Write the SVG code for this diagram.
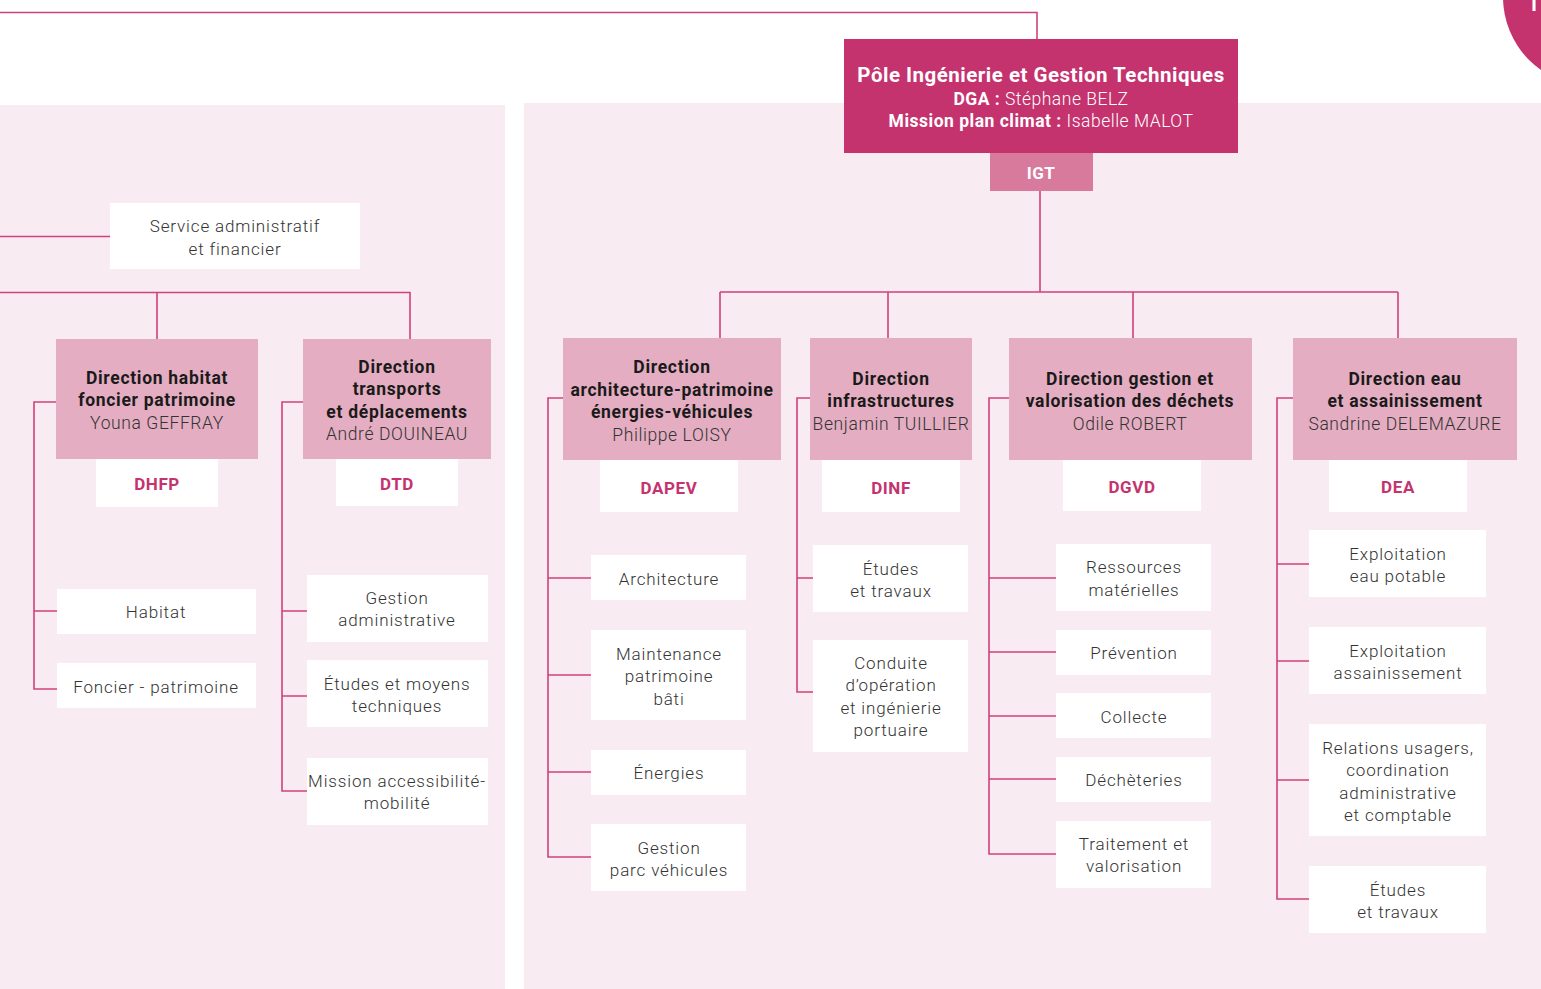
<svg xmlns="http://www.w3.org/2000/svg" width="1541" height="989" viewBox="0 0 1541 989">
<style>
text{font-family:Roboto,"Liberation Sans",sans-serif;text-anchor:middle}
.bg{fill:#F8ECF2}
.dir{fill:#E4ADC1}
.leaf{fill:#FFFFFF}
.t{font-size:17px;fill:#333333;font-weight:300;letter-spacing:0.85px}
.b{font-size:17.5px;fill:#1a1a1a;font-weight:700;letter-spacing:0.7px}
.n{font-size:17.5px;fill:#333333;font-weight:300;letter-spacing:0.6px}
.code{font-size:17px;fill:#C5336F;font-weight:700;letter-spacing:0.6px}
.hd{fill:#FFFFFF;letter-spacing:0.5px}
#connectors path{stroke:#D0417B;stroke-width:1.6;fill:none}
</style>
<rect width="1541" height="989" fill="#FFFFFF"/>
<rect class="bg" x="0" y="105" width="505" height="884"/>
<rect class="bg" x="524" y="103" width="1017" height="886"/>
<circle cx="1592" cy="-3" r="89" fill="#C5336F"/>
<text x="1534" y="11" font-size="20" fill="#FFFFFF" font-weight="700" style="font-family:'Liberation Sans',sans-serif">I</text>

<g id="connectors">
<path d="M0 12.5 H1037 V39"/>
<path d="M1040 191 V292"/>
<path d="M720 292 H1398"/>
<path d="M720 292 V338 M888 292 V338 M1133 292 V338 M1398 292 V338"/>
<path d="M0 236.5 H110"/>
<path d="M0 292.5 H410 V339 M157 292.5 V339"/>
<path d="M56 402 H34 V689 H57 M34 611 H57"/>
<path d="M303 402 H282 V791 H307 M282 611 H307 M282 696 H307"/>
<path d="M563 398 H548 V857 H591 M548 578 H591 M548 675 H591 M548 772 H591"/>
<path d="M810 398 H797 V692 H813 M797 578 H813"/>
<path d="M1009 398 H989 V854 H1056 M989 578 H1056 M989 652 H1056 M989 716 H1056 M989 779 H1056"/>
<path d="M1293 398 H1277 V899 H1309 M1277 564 H1309 M1277 661 H1309 M1277 780 H1309"/>
</g>

<g id="pole">
<rect x="844" y="39" width="394" height="114" fill="#C5336F"/>
<text class="hd" x="1041" y="82" font-size="20.5" font-weight="700">Pôle Ingénierie et Gestion Techniques</text>
<text class="hd" x="1041" y="105" font-size="17.5"><tspan font-weight="700">DGA :</tspan><tspan font-weight="300"> Stéphane BELZ</tspan></text>
<text class="hd" x="1041" y="127" font-size="17.5"><tspan font-weight="700">Mission plan climat :</tspan><tspan font-weight="300"> Isabelle MALOT</tspan></text>
</g>
<g id="igt">
<rect x="990" y="153" width="103" height="38" fill="#D77A9C"/>
<text class="hd" x="1041" y="179" font-size="17" font-weight="700">IGT</text>
</g>

<g id="saf">
<rect class="leaf" x="110" y="203" width="250" height="66"/>
<text class="t" x="235" y="232">Service administratif</text>
<text class="t" x="235" y="255">et financier</text>
</g>

<g id="dhfp">
<rect class="dir" x="56" y="339" width="202" height="120"/>
<text class="b" x="157" y="384">Direction habitat</text>
<text class="b" x="157" y="406">foncier patrimoine</text>
<text class="n" x="157" y="429">Youna GEFFRAY</text>
<rect class="leaf" x="96" y="459" width="122" height="48"/>
<text class="code" x="157" y="490">DHFP</text>
</g>
<g id="dtd">
<rect class="dir" x="303" y="339" width="188" height="120"/>
<text class="b" x="397" y="373">Direction</text>
<text class="b" x="397" y="395">transports</text>
<text class="b" x="397" y="418">et déplacements</text>
<text class="n" x="397" y="440">André DOUINEAU</text>
<rect class="leaf" x="336" y="459" width="122" height="47"/>
<text class="code" x="397" y="490">DTD</text>
</g>
<g id="dapev">
<rect class="dir" x="563" y="338" width="218" height="122"/>
<text class="b" x="672" y="373">Direction</text>
<text class="b" x="672" y="396">architecture-patrimoine</text>
<text class="b" x="672" y="418">énergies-véhicules</text>
<text class="n" x="672" y="441">Philippe LOISY</text>
<rect class="leaf" x="600" y="460" width="138" height="52"/>
<text class="code" x="669" y="494">DAPEV</text>
</g>
<g id="dinf">
<rect class="dir" x="810" y="338" width="162" height="122"/>
<text class="b" x="891" y="385">Direction</text>
<text class="b" x="891" y="407">infrastructures</text>
<text class="n" x="891" y="430">Benjamin TUILLIER</text>
<rect class="leaf" x="822" y="460" width="138" height="52"/>
<text class="code" x="891" y="494">DINF</text>
</g>
<g id="dgvd">
<rect class="dir" x="1009" y="338" width="243" height="122"/>
<text class="b" x="1130" y="385">Direction gestion et</text>
<text class="b" x="1130" y="407">valorisation des déchets</text>
<text class="n" x="1130" y="430">Odile ROBERT</text>
<rect class="leaf" x="1063" y="460" width="138" height="51"/>
<text class="code" x="1132" y="493">DGVD</text>
</g>
<g id="dea">
<rect class="dir" x="1293" y="338" width="224" height="122"/>
<text class="b" x="1405" y="385">Direction eau</text>
<text class="b" x="1405" y="407">et assainissement</text>
<text class="n" x="1405" y="430">Sandrine DELEMAZURE</text>
<rect class="leaf" x="1329" y="460" width="138" height="52"/>
<text class="code" x="1398" y="493">DEA</text>
</g>

<g id="habitat"><rect class="leaf" x="57" y="589" width="199" height="45"/><text class="t" x="156" y="618">Habitat</text></g>
<g id="foncier"><rect class="leaf" x="57" y="663" width="199" height="45"/><text class="t" x="156" y="693">Foncier - patrimoine</text></g>
<g id="gestadm"><rect class="leaf" x="307" y="575" width="181" height="67"/><text class="t" x="397" y="604">Gestion</text><text class="t" x="397" y="626">administrative</text></g>
<g id="etudesmoyens"><rect class="leaf" x="307" y="660" width="181" height="67"/><text class="t" x="397" y="690">Études et moyens</text><text class="t" x="397" y="712">techniques</text></g>
<g id="mission"><rect class="leaf" x="307" y="758" width="181" height="67"/><text class="t" x="397" y="787">Mission accessibilité-</text><text class="t" x="397" y="809">mobilité</text></g>

<g id="archi"><rect class="leaf" x="591" y="555" width="155" height="45"/><text class="t" x="669" y="585">Architecture</text></g>
<g id="maint"><rect class="leaf" x="591" y="630" width="155" height="90"/><text class="t" x="669" y="660">Maintenance</text><text class="t" x="669" y="682">patrimoine</text><text class="t" x="669" y="705">bâti</text></g>
<g id="energies"><rect class="leaf" x="591" y="750" width="155" height="45"/><text class="t" x="669" y="779">Énergies</text></g>
<g id="parc"><rect class="leaf" x="591" y="824" width="155" height="67"/><text class="t" x="669" y="854">Gestion</text><text class="t" x="669" y="876">parc véhicules</text></g>

<g id="etudesinf"><rect class="leaf" x="813" y="545" width="155" height="67"/><text class="t" x="891" y="575">Études</text><text class="t" x="891" y="597">et travaux</text></g>
<g id="conduite"><rect class="leaf" x="813" y="640" width="155" height="112"/><text class="t" x="891" y="669">Conduite</text><text class="t" x="891" y="691">d’opération</text><text class="t" x="891" y="714">et ingénierie</text><text class="t" x="891" y="736">portuaire</text></g>

<g id="ressources"><rect class="leaf" x="1056" y="544" width="155" height="67"/><text class="t" x="1134" y="573">Ressources</text><text class="t" x="1134" y="596">matérielles</text></g>
<g id="prevention"><rect class="leaf" x="1056" y="630" width="155" height="45"/><text class="t" x="1134" y="659">Prévention</text></g>
<g id="collecte"><rect class="leaf" x="1056" y="693" width="155" height="45"/><text class="t" x="1134" y="723">Collecte</text></g>
<g id="decheteries"><rect class="leaf" x="1056" y="757" width="155" height="45"/><text class="t" x="1134" y="786">Déchèteries</text></g>
<g id="traitement"><rect class="leaf" x="1056" y="821" width="155" height="67"/><text class="t" x="1134" y="850">Traitement et</text><text class="t" x="1134" y="872">valorisation</text></g>

<g id="eaupot"><rect class="leaf" x="1309" y="530" width="177" height="67"/><text class="t" x="1398" y="560">Exploitation</text><text class="t" x="1398" y="582">eau potable</text></g>
<g id="assain"><rect class="leaf" x="1309" y="627" width="177" height="67"/><text class="t" x="1398" y="657">Exploitation</text><text class="t" x="1398" y="679">assainissement</text></g>
<g id="relations"><rect class="leaf" x="1309" y="724" width="177" height="112"/><text class="t" x="1398" y="754">Relations usagers,</text><text class="t" x="1398" y="776">coordination</text><text class="t" x="1398" y="799">administrative</text><text class="t" x="1398" y="821">et comptable</text></g>
<g id="etudesea"><rect class="leaf" x="1309" y="866" width="177" height="67"/><text class="t" x="1398" y="896">Études</text><text class="t" x="1398" y="918">et travaux</text></g>
</svg>
